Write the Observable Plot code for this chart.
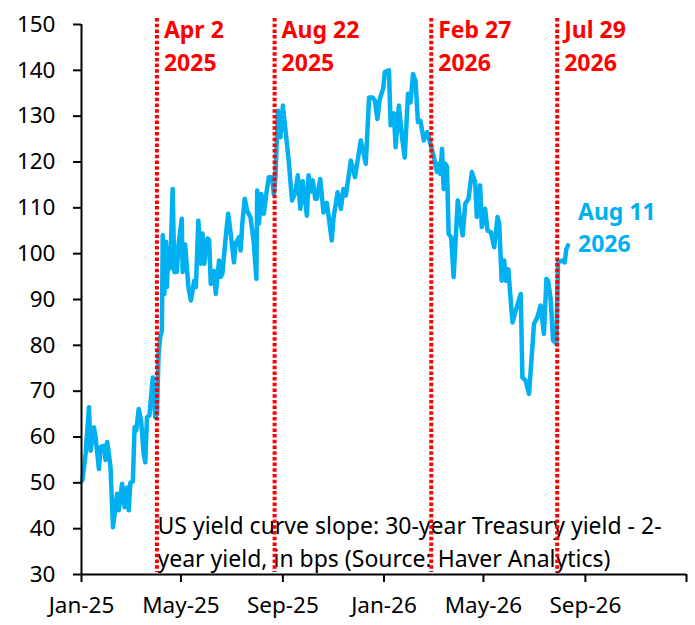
<!DOCTYPE html>
<html>
<head>
<meta charset="utf-8">
<script src="https://cdn.jsdelivr.net/npm/d3@7"></script>
<script src="https://cdn.jsdelivr.net/npm/@observablehq/plot@0.6"></script>
<style>
  html, body { margin: 0; padding: 0; background: #fff; }
  #chart { width: 695px; height: 625px; }
</style>
</head>
<body>
<div id="chart"></div>
<script>
// --- Data: US yield curve slope (30y - 2y), bps ---
const dates = [
  "2025-01-02","2025-01-04","2025-01-06","2025-01-10","2025-01-12","2025-01-16","2025-01-18","2025-01-22","2025-01-24","2025-01-28",
  "2025-01-30","2025-02-01","2025-02-03","2025-02-05","2025-02-08","2025-02-10","2025-02-13","2025-02-15","2025-02-19","2025-02-22",
  "2025-02-25","2025-02-27","2025-03-01","2025-03-04","2025-03-06","2025-03-08","2025-03-11","2025-03-14","2025-03-17","2025-03-19",
  "2025-03-21","2025-03-24","2025-03-28","2025-03-31","2025-04-02","2025-04-04","2025-04-06","2025-04-08","2025-04-09","2025-04-11",
  "2025-04-13","2025-04-14","2025-04-16","2025-04-18","2025-04-21","2025-04-23","2025-04-26","2025-04-28","2025-05-02","2025-05-03",
  "2025-05-06","2025-05-10","2025-05-13","2025-05-17","2025-05-19","2025-05-22","2025-05-25","2025-05-27","2025-05-29","2025-06-02",
  "2025-06-04","2025-06-06","2025-06-10","2025-06-12","2025-06-16","2025-06-18","2025-06-20","2025-06-24","2025-06-27","2025-06-30",
  "2025-07-04","2025-07-06","2025-07-10","2025-07-12","2025-07-14","2025-07-17","2025-07-20","2025-07-24","2025-07-28","2025-07-31",
  "2025-08-01","2025-08-03","2025-08-06","2025-08-09","2025-08-12","2025-08-15","2025-08-19","2025-08-21","2025-08-23","2025-08-26",
  "2025-08-29","2025-09-01","2025-09-08","2025-09-12","2025-09-16","2025-09-19","2025-09-22","2025-09-25","2025-09-30","2025-10-02",
  "2025-10-04","2025-10-07","2025-10-10","2025-10-12","2025-10-16","2025-10-20","2025-10-24","2025-10-30","2025-11-01","2025-11-06",
  "2025-11-10","2025-11-13","2025-11-16","2025-11-22","2025-11-27","2025-12-04","2025-12-10","2025-12-14","2025-12-18","2025-12-21",
  "2025-12-24","2025-12-27","2025-12-31","2026-01-02","2026-01-07","2026-01-09","2026-01-13","2026-01-15","2026-01-19","2026-01-23",
  "2026-01-26","2026-01-30","2026-02-02","2026-02-05","2026-02-08","2026-02-11","2026-02-14","2026-02-18","2026-02-22","2026-02-26",
  "2026-03-02","2026-03-06","2026-03-08","2026-03-10","2026-03-12","2026-03-14","2026-03-16","2026-03-18","2026-03-20","2026-03-23",
  "2026-03-26","2026-03-31","2026-04-03","2026-04-06","2026-04-09","2026-04-13","2026-04-17","2026-04-21","2026-04-23","2026-04-27",
  "2026-04-29","2026-05-03","2026-05-06","2026-05-10","2026-05-14","2026-05-18","2026-05-20","2026-05-23","2026-05-26","2026-05-28",
  "2026-05-31","2026-06-05","2026-06-09","2026-06-15","2026-06-17","2026-06-21","2026-06-25","2026-06-28","2026-07-01","2026-07-05",
  "2026-07-09","2026-07-13","2026-07-16","2026-07-18","2026-07-21","2026-07-24","2026-07-28","2026-07-30","2026-08-04","2026-08-07",
  "2026-08-09","2026-08-11"
];
const slope = [
  50.5,53.4,56.4,66.5,57,62.1,60,53,57.8,58.1,
  55,58.9,56.4,53.4,40.3,43.2,47.6,44,49.8,44.7,
  49,44,50,50.3,62.1,61.4,66.1,63.5,56.3,54.5,
  64.3,64.7,73,64.3,65,78.1,81.8,83.2,104,91.2,
  102.6,92.7,101.1,96.8,114.1,96,96,101.9,107.6,96,
  102,92.7,89.8,94.1,92.7,107.2,97.8,104.4,97.8,103.3,
  103,93.4,96.2,91.2,98.5,94.9,95.6,103.6,108.7,104.4,
  98.1,102.2,103.6,100.7,106.5,112,109.3,107.9,102.2,94.5,
  113.8,106.5,113,108.7,113,116.7,116.7,113,116.7,131.2,
  125.4,132.3,120.3,111.6,113.3,117.1,109.8,115.8,108.3,117.1,
  113.5,116,112,112,116.3,109,111.1,102.9,107.7,113.4,
  109.8,114.1,112.7,120.3,116.7,124.7,119.6,134.1,134.1,133.4,
  129.4,133.8,136,139.6,140,128,130.6,123.2,132.3,125,
  121,134.9,133,139.2,137.7,128.7,129,124.7,126.5,124,
  121.2,117.8,119.6,117.4,122.9,114.1,119.6,119,104.3,103.6,
  94.9,111.6,107.3,104,110.9,112,117.8,115.6,108,114.9,
  105.8,109.8,105,104.7,101.4,108,106.5,94.1,98.5,94.1,
  96.6,85,87.6,91.2,73,72.3,69.4,77,84.7,86.1,
  88.7,82.5,94.5,94.1,90.2,81.1,80.3,98.1,98.5,98.1,
  101,101.8
];

const eventDates = ["2025-04-02", "2025-08-22", "2026-02-27", "2026-07-29"];
const eventLabels = ["Apr 2\n2025", "Aug 22\n2025", "Feb 27\n2026", "Jul 29\n2026"];

const yTicks = [30, 40, 50, 60, 70, 80, 90, 100, 110, 120, 130, 140, 150];
const xTickDates = ["2025-01-01", "2025-05-01", "2025-09-01", "2026-01-01", "2026-05-01", "2026-09-01", "2027-01-01"];
const xTickLabels = ["Jan-25", "May-25", "Sep-25", "Jan-26", "May-26", "Sep-26", ""];

const lastLabel = "Aug 11\n2026";
const caption = "US yield curve slope: 30-year Treasury yield - 2-\nyear yield, in bps (Source: Haver Analytics)";

// --- Build tables ---
const series = dates.map((d, i) => ({date: new Date(d), value: slope[i]}));
const events = eventDates.map((d, i) => ({date: new Date(d), label: eventLabels[i]}));
const xTicks = xTickDates.map(d => new Date(d));
const tickLabelOf = new Map(xTicks.map((d, i) => [+d, xTickLabels[i]]));
const last = series[series.length - 1];

const BLUE = "#00B0F0";
const RED = "#FF0000";

const chart = Plot.plot({
  width: 695,
  height: 625,
  marginLeft: 81,
  marginRight: 9,
  marginTop: 24,
  marginBottom: 51,
  style: {fontFamily: "'Noto Sans', 'Liberation Sans', sans-serif", fontSize: "22px", background: "#fff", color: "#000", overflow: "visible"},
  x: {type: "utc", domain: [xTicks[0], xTicks[xTicks.length - 1]]},
  y: {domain: [30, 150]},
  marks: [
    Plot.text([caption], {
      frameAnchor: "bottom-left", textAnchor: "start", lineAnchor: "bottom",
      dx: 76, dy: -8, lineHeight: 1.43, fontSize: 23, fill: "#000"
    }),
    Plot.line(series, {x: "date", y: "value", stroke: BLUE, strokeWidth: 4.5, strokeLinejoin: "round", strokeLinecap: "round"}),
    Plot.ruleX(events, {x: "date", stroke: RED, strokeWidth: 4, strokeDasharray: "3.5,2.2", insetTop: -6, insetBottom: 2}),
    Plot.text(events, {
      x: "date", text: "label", frameAnchor: "top", textAnchor: "start", lineAnchor: "top",
      dx: 7, dy: -9, lineHeight: 1.4, fill: RED, fontWeight: "bold", fontSize: 23
    }),
    Plot.text([last], {
      x: "date", y: "value", text: () => lastLabel, textAnchor: "start", lineAnchor: "bottom",
      dx: 10, dy: 7, lineHeight: 1.4, fill: BLUE, fontWeight: "bold", fontSize: 23
    }),
    Plot.axisY({ticks: yTicks, tickSize: 8, tickPadding: 18, label: null, strokeWidth: 2, fontSize: 22.5, fill: "#000"}),
    Plot.axisX({ticks: xTicks, tickSize: 8, tickPadding: 15, label: null, strokeWidth: 2, fontSize: 22.5, fill: "#000",
      tickFormat: d => tickLabelOf.get(+d) ?? ""}),
    Plot.ruleX([xTicks[0]], {stroke: "#000", strokeWidth: 2}),
    Plot.ruleY([30], {stroke: "#000", strokeWidth: 2})
  ]
});

document.getElementById("chart").appendChild(chart);
</script>
</body>
</html>
